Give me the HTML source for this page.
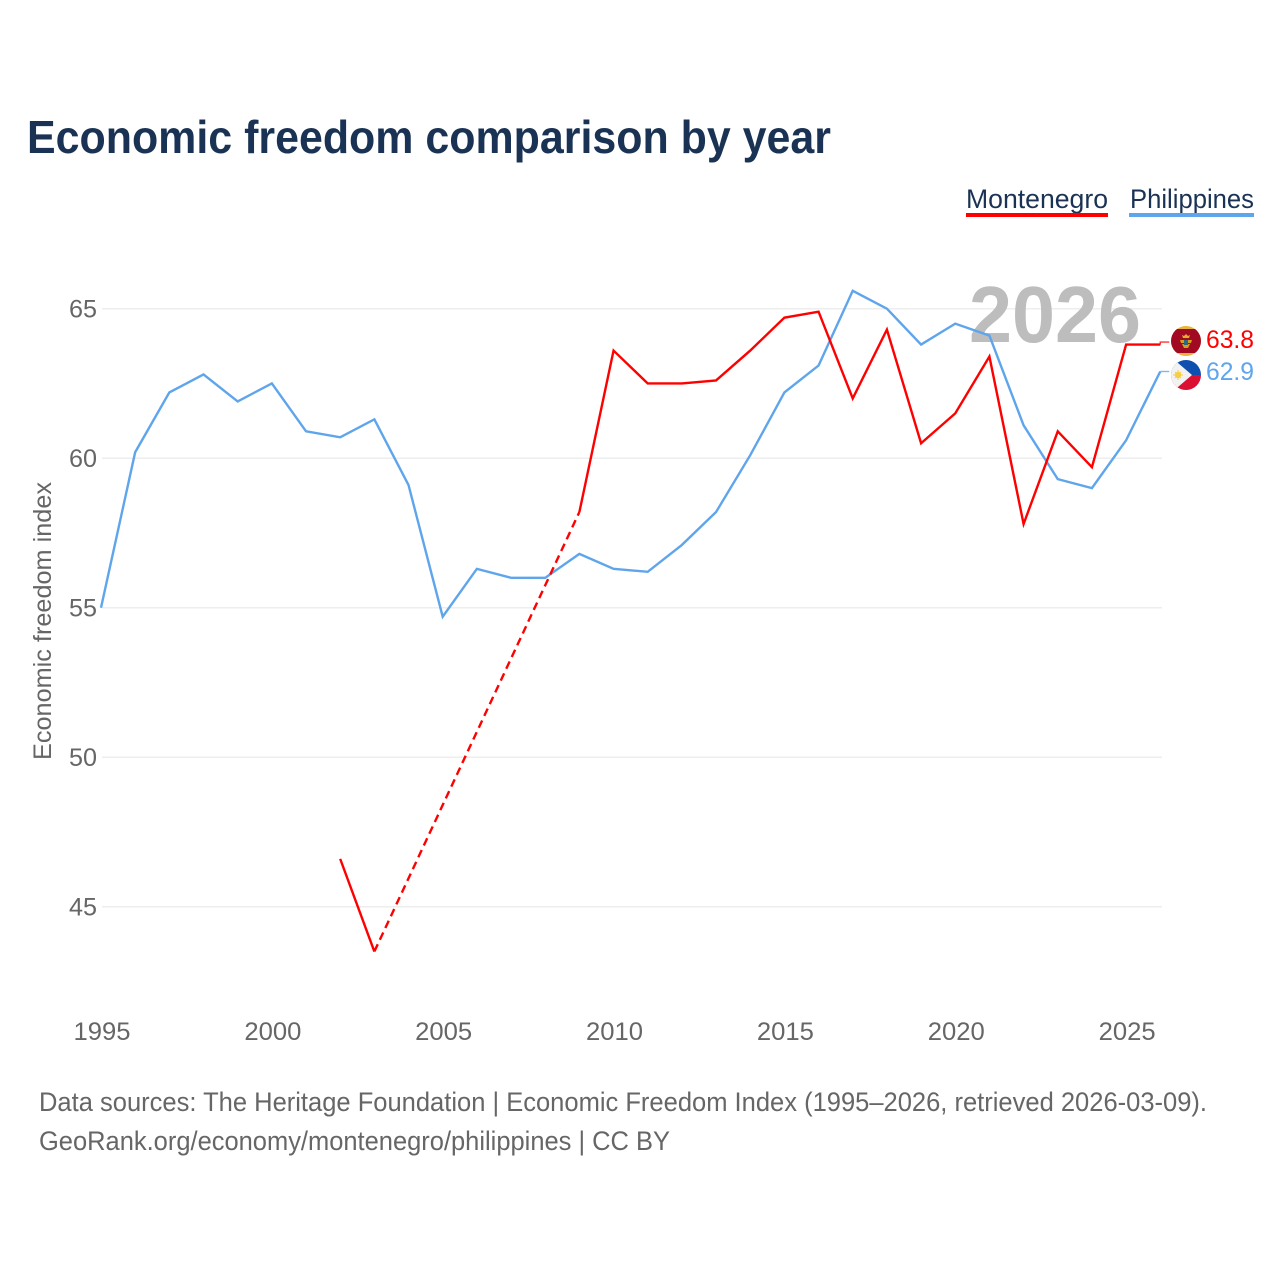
<!DOCTYPE html>
<html lang="en">
<head>
<meta charset="utf-8">
<title>Economic freedom comparison by year</title>
<style>
html,body{margin:0;padding:0;background:#fff;width:1280px;height:1280px;overflow:hidden}
svg{display:block}
text{font-family:"Liberation Sans",sans-serif}
</style>
</head>
<body>
<svg id="chart" xmlns="http://www.w3.org/2000/svg" width="1280" height="1280" viewBox="0 0 1280 1280">
  <rect x="0" y="0" width="1280" height="1280" fill="#fff"/>
  <text x="27" y="153" font-size="46" font-weight="700" fill="#1a3354" textLength="804" lengthAdjust="spacingAndGlyphs">Economic freedom comparison by year</text>

  <g id="grid"></g>
  <text x="969" y="342" font-size="80" font-weight="700" fill="#bdbdbd" textLength="172" lengthAdjust="spacingAndGlyphs">2026</text>
  <g id="yticks"></g>
  <g id="xticks"></g>
  <g id="marks"></g>

  <text transform="translate(51,760) rotate(-90)" font-size="25" fill="#666" textLength="278" lengthAdjust="spacingAndGlyphs">Economic freedom index</text>

  <g>
    <text x="966" y="208" font-size="27" fill="#1a3354" textLength="142" lengthAdjust="spacingAndGlyphs">Montenegro</text>
    <rect x="966" y="213" width="142" height="4" fill="#ff0000"/>
  </g>
  <g>
    <text x="1130" y="208" font-size="27" fill="#1a3354" textLength="124" lengthAdjust="spacingAndGlyphs">Philippines</text>
    <rect x="1129" y="213" width="125" height="4" fill="#5fa5ec"/>
  </g>

  <defs>
    <clipPath id="flag-me"><circle cx="1186" cy="341" r="15"/></clipPath>
    <clipPath id="flag-ph"><circle cx="1186" cy="375" r="15"/></clipPath>
  </defs>
  <g clip-path="url(#flag-me)">
    <rect x="1171" y="326" width="30" height="30" fill="#e9b53a"/>
    <rect x="1171" y="329" width="30" height="24" fill="#a20a24"/>
    <path d="M1183 338 l-1-3 2 1 2-2 2 2 2-1 -1 3 z" fill="#e0b02c"/>
    <path d="M1180 340 h12 l-1 3 h-10 z" fill="#d3a11e"/>
    <path d="M1182 344 h8 l-2 4 h-4 z" fill="#d3a11e"/>
    <rect x="1184" y="340" width="4" height="5" fill="#2e6a7c"/>
  </g>
  <g clip-path="url(#flag-ph)">
    <rect x="1171" y="360" width="30" height="15" fill="#0f4fb0"/>
    <rect x="1171" y="375" width="30" height="15" fill="#db0f32"/>
    <path d="M1171 357 L1171 393 L1192 375 Z" fill="#f2f2f2"/>
    <circle cx="1178" cy="375" r="3.2" fill="#f7cd46"/>
    <path d="M1173 375 h10 M1178 370 v10 M1175 372 l6 6 M1181 372 l-6 6" stroke="#f7cd46" stroke-width="1"/>
  </g>
  <text x="1206" y="348" font-size="25" fill="#ff0000" textLength="48" lengthAdjust="spacingAndGlyphs">63.8</text>
  <text x="1206" y="380" font-size="25" fill="#5fa5ec" textLength="48" lengthAdjust="spacingAndGlyphs">62.9</text>

  <text x="39" y="1111" font-size="26.5" fill="#666" textLength="1168" lengthAdjust="spacingAndGlyphs">Data sources: The Heritage Foundation | Economic Freedom Index (1995–2026, retrieved 2026-03-09).</text>
  <text x="39" y="1150" font-size="26.5" fill="#666" textLength="631" lengthAdjust="spacingAndGlyphs">GeoRank.org/economy/montenegro/philippines | CC BY</text>
</svg>
<script>
const years = [1995,1996,1997,1998,1999,2000,2001,2002,2003,2004,2005,2006,2007,2008,2009,2010,2011,2012,2013,2014,2015,2016,2017,2018,2019,2020,2021,2022,2023,2024,2025,2026];
const philippinesValues = [55.0,60.2,62.2,62.8,61.9,62.5,60.9,60.7,61.3,59.1,54.7,56.3,56.0,56.0,56.8,56.3,56.2,57.1,58.2,60.1,62.2,63.1,65.6,65.0,63.8,64.5,64.1,61.1,59.3,59.0,60.6,62.9];
const montenegroValues = [null,null,null,null,null,null,null,46.6,43.5,null,null,null,null,null,58.2,63.6,62.5,62.5,62.6,63.6,64.7,64.9,62.0,64.3,60.5,61.5,63.4,57.8,60.9,59.7,63.8,63.8];
const xTickLabels = [1995,2000,2005,2010,2015,2020,2025];
const yTickLabels = [45,50,55,60,65];

const SVGNS = 'http://www.w3.org/2000/svg';
const xScale = function (year) { return 101 + (year - 1995) * 34.17; };
const yScale = function (value) { return 906.7 - (value - 45) * 29.9; };

function make(tag, parent, attrs, text) {
  const el = document.createElementNS(SVGNS, tag);
  Object.keys(attrs).forEach(function (k) { el.setAttribute(k, attrs[k]); });
  if (text !== undefined) el.textContent = text;
  parent.appendChild(el);
  return el;
}

const gridG = document.getElementById('grid');
const yG = document.getElementById('yticks');
const xG = document.getElementById('xticks');
const marksG = document.getElementById('marks');

yTickLabels.forEach(function (v) {
  const line = make('line', gridG, {x1: 102, x2: 1162, y1: yScale(v), y2: yScale(v), stroke: '#eeeeee', 'stroke-width': 1.5});
  
  
  const label = make('text', yG, {x: 97, y: yScale(v) + 8.6, 'text-anchor': 'end', 'font-size': 25, fill: '#666', textLength: 28, lengthAdjust: 'spacingAndGlyphs'}, String(v));
  
  
});

xTickLabels.forEach(function (y) {
  const label = make('text', xG, {x: xScale(y) + 1, y: 1040, 'text-anchor': 'middle', 'font-size': 25, fill: '#666', textLength: 57, lengthAdjust: 'spacingAndGlyphs'}, String(y));
  
  
});

function pointsOf(values, run) {
  return run.map(function (i) { return xScale(years[i]) + ',' + yScale(values[i]); }).join(' ');
}

function drawSeries(values, color, key, leaderRise) {
  let run = [];
  let lastIndex = -1;
  const flush = function () {
    if (run.length > 1) {
      const solid = make('polyline', marksG, {points: pointsOf(values, run), fill: 'none', stroke: color, 'stroke-width': 2.4, 'stroke-linejoin': 'miter'});
      
      
    }
    run = [];
  };
  values.forEach(function (v, i) {
    if (v === null) return;
    if (lastIndex >= 0 && i - lastIndex > 1) {
      flush();
      const gap = make('line', marksG, {x1: xScale(years[lastIndex]), y1: yScale(values[lastIndex]), x2: xScale(years[i]), y2: yScale(v), stroke: color, 'stroke-width': 2.4, 'stroke-dasharray': '8 5'});
      
      
    }
    run.push(i);
    lastIndex = i;
  });
  flush();
  const endX = xScale(years[lastIndex]);
  const endY = yScale(values[lastIndex]);
  const lead = make('polyline', marksG, {points: endX + ',' + endY + ' ' + endX + ',' + (endY - leaderRise) + ' ' + (endX + 9) + ',' + (endY - leaderRise), fill: 'none', stroke: color, 'stroke-width': 1.4, opacity: 0.8});
  
  
}

drawSeries(philippinesValues, '#5fa5ec', 'philippines', 0);
drawSeries(montenegroValues, '#ff0000', 'montenegro', 2.5);
</script>
</body>
</html>
